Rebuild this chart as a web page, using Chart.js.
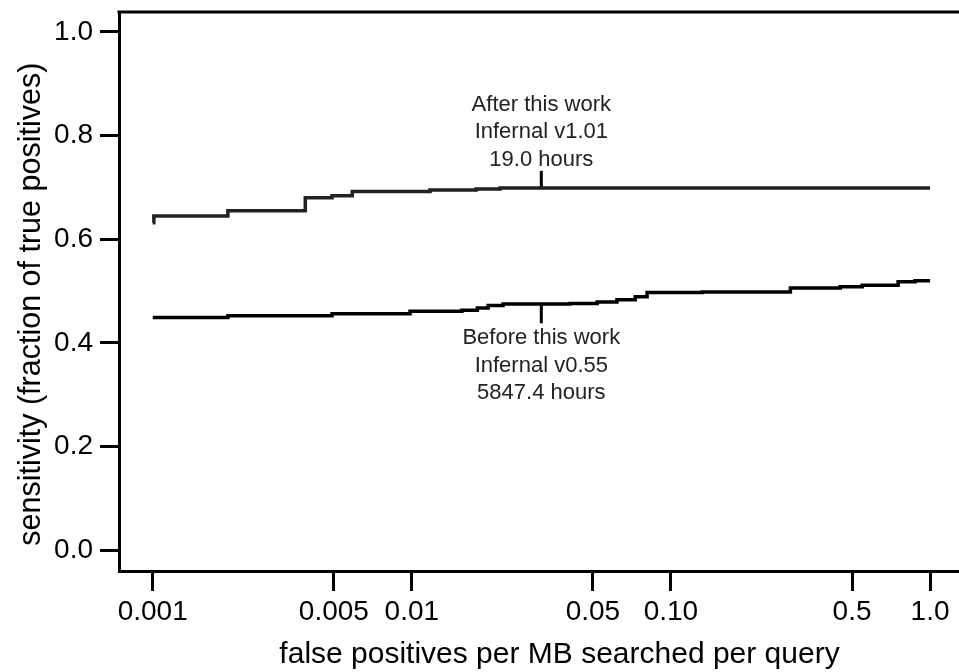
<!DOCTYPE html>
<html>
<head>
<meta charset="utf-8">
<script src="https://cdn.jsdelivr.net/npm/chart.js@4.4.1/dist/chart.umd.min.js"></script>
<style>
    html, body { margin: 0; padding: 0; background: #fff; overflow: hidden; }
</style>
</head>
<body>
<canvas id="chart-sensitivity" width="1000" height="672"></canvas>
<script>
// tick values and labels
const xTickValues = [0.001, 0.005, 0.01, 0.05, 0.1, 0.5, 1.0];
const xTickLabels = ['0.001', '0.005', '0.01', '0.05', '0.10', '0.5', '1.0'];
const yTickValues = [0, 0.2, 0.4, 0.6, 0.8, 1.0];
const yTickLabels = ['0.0', '0.2', '0.4', '0.6', '0.8', '1.0'];

// Infernal v1.01 (after this work)
const afterFp = [0.001, 0.00101, 0.00195, 0.00388, 0.00492, 0.00589, 0.01175, 0.0177, 0.0219, 1.0];
const afterSens = [0.632, 0.645, 0.655, 0.680, 0.684, 0.692, 0.695, 0.697, 0.699, 0.699];

// Infernal v0.55 (before this work)
const beforeFp = [0.001, 0.00195, 0.00492, 0.00984, 0.0156, 0.0179, 0.0197, 0.0225, 0.0408, 0.0519,
    0.0619, 0.0728, 0.0809, 0.132, 0.289, 0.450, 0.547, 0.753, 0.875, 1.0];
const beforeSens = [0.449, 0.452, 0.456, 0.461, 0.463, 0.467, 0.472, 0.475, 0.476, 0.479,
    0.483, 0.489, 0.497, 0.498, 0.506, 0.508, 0.511, 0.518, 0.520, 0.520];

// label markers
const markerFp = 0.0316;
const afterMarker = [0.699, 0.732];
const beforeMarker = [0.477, 0.438];
const afterLabel = ['After this work', 'Infernal v1.01', '19.0 hours'];
const beforeLabel = ['Before this work', 'Infernal v0.55', '5847.4 hours'];

const FONT = "'Liberation Sans', Arial, Helvetica, sans-serif";

function toPoints(xs, ys) {
    return xs.map((x, i) => ({ x: x, y: ys[i] }));
}

const curveLabels = {
    id: 'curveLabels',
    afterDatasetsDraw(chart) {
        const ctx = chart.ctx;
        const area = chart.chartArea;
        const xs = chart.scales.x;
        const ys = chart.scales.y;

        // top frame line
        ctx.save();
        ctx.strokeStyle = '#000';
        ctx.lineWidth = 3;
        ctx.beginPath();
        ctx.moveTo(area.left - 1.5, area.top);
        ctx.lineTo(area.right, area.top);
        ctx.stroke();

        const x = xs.getPixelForValue(markerFp);
        ctx.fillStyle = '#222';
        ctx.font = '22px ' + FONT;
        ctx.textAlign = 'center';
        ctx.textBaseline = 'middle';

        const topY = ys.getPixelForValue(afterMarker[1]);
        afterLabel.forEach((t, i) => {
            ctx.fillText(t, x, topY - 11 - (afterLabel.length - 1 - i) * 27.5);
        });
        const botY = ys.getPixelForValue(beforeMarker[1]);
        beforeLabel.forEach((t, i) => {
            ctx.fillText(t, x, botY + 15 + i * 27.5);
        });
        ctx.restore();
    }
};

new Chart(document.getElementById('chart-sensitivity'), {
    type: 'line',
    data: {
        datasets: [{
            label: 'Infernal v1.01',
            data: toPoints(afterFp, afterSens),
            borderColor: '#222',
            borderWidth: 3.5,
            stepped: true,
            pointRadius: 0
        },
        {
            label: 'Infernal v0.55',
            data: toPoints(beforeFp, beforeSens),
            borderColor: '#000',
            borderWidth: 3.5,
            stepped: true,
            pointRadius: 0
        },
        {
            label: 'after marker',
            data: toPoints([markerFp, markerFp], afterMarker),
            borderColor: '#000',
            borderWidth: 3,
            pointRadius: 0
        },
        {
            label: 'before marker',
            data: toPoints([markerFp, markerFp], beforeMarker),
            borderColor: '#000',
            borderWidth: 3,
            pointRadius: 0
        }
        ]
    },
    options: {
        responsive: false,
        animation: false,
        layout: {
            padding: { top: 12, left: 0, right: 0, bottom: 0 }
        },
        scales: {
            x: {
                type: 'logarithmic',
                min: 0.000741,
                max: 1.862,
                afterBuildTicks: scale => {
                    scale.ticks = xTickValues.map(v => ({ value: v }));
                },
                afterFit: scale => {
                    scale.height = 101;
                    scale.paddingLeft = 0;
                    scale.paddingRight = 0;
                },
                ticks: {
                    autoSkip: false,
                    maxRotation: 0,
                    padding: 4,
                    color: '#000',
                    font: { family: FONT, size: 28 },
                    callback: (value, index) => xTickLabels[index]
                },
                grid: {
                    drawOnChartArea: false,
                    tickLength: 20,
                    lineWidth: 3,
                    color: '#000'
                },
                border: { color: '#000', width: 3 },
                title: {
                    display: true,
                    text: 'false positives per MB searched per query',
                    color: '#000',
                    font: { family: FONT, size: 30, lineHeight: 1 },
                    padding: { top: 0, bottom: 2 }
                }
            },
            y: {
                min: -0.0405,
                max: 1.0386,
                afterBuildTicks: scale => {
                    scale.ticks = yTickValues.map(v => ({ value: v }));
                },
                afterFit: scale => {
                    scale.width = 119;
                    scale.paddingTop = 0;
                    scale.paddingBottom = 0;
                },
                ticks: {
                    autoSkip: false,
                    padding: 7,
                    color: '#000',
                    font: { family: FONT, size: 28 },
                    callback: (value, index) => yTickLabels[index]
                },
                grid: {
                    drawOnChartArea: false,
                    tickLength: 19,
                    lineWidth: 3,
                    color: '#000'
                },
                border: { color: '#000', width: 3 },
                title: {
                    display: true,
                    // trailing spaces nudge the centred title down a bit, as in the original
                    text: 'sensitivity (fraction of true positives)\u00a0\u00a0\u00a0',
                    color: '#000',
                    font: { family: FONT, size: 30.5 },
                    padding: { top: 13, bottom: 0 }
                }
            }
        },
        plugins: {
            legend: { display: false },
            tooltip: { enabled: false }
        }
    },
    plugins: [curveLabels]
});
</script>
</body>
</html>
